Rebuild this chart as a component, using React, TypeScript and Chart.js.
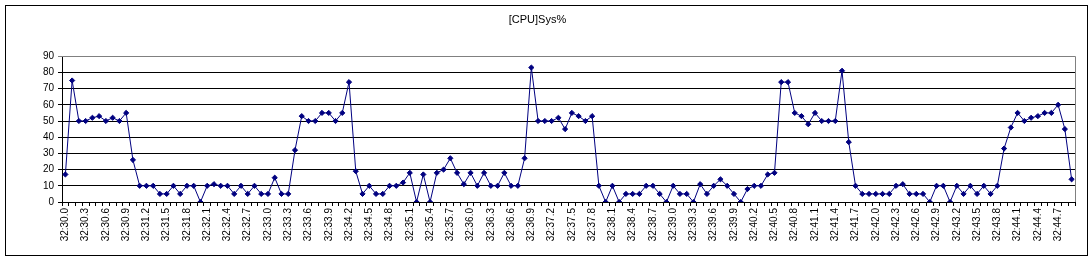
import React, { useEffect, useRef } from "react";
import { Chart, registerables } from "chart.js";

Chart.register(...registerables);

const chartTitle = "[CPU]Sys%";

const categories = [
  "32:30.0", "32:30.1", "32:30.2", "32:30.3", "32:30.4", "32:30.5", "32:30.6", "32:30.7", "32:30.8", "32:30.9",
  "32:31.0", "32:31.1", "32:31.2", "32:31.3", "32:31.4", "32:31.5", "32:31.6", "32:31.7", "32:31.8", "32:31.9",
  "32:32.0", "32:32.1", "32:32.2", "32:32.3", "32:32.4", "32:32.5", "32:32.6", "32:32.7", "32:32.8", "32:32.9",
  "32:33.0", "32:33.1", "32:33.2", "32:33.3", "32:33.4", "32:33.5", "32:33.6", "32:33.7", "32:33.8", "32:33.9",
  "32:34.0", "32:34.1", "32:34.2", "32:34.3", "32:34.4", "32:34.5", "32:34.6", "32:34.7", "32:34.8", "32:34.9",
  "32:35.0", "32:35.1", "32:35.2", "32:35.3", "32:35.4", "32:35.5", "32:35.6", "32:35.7", "32:35.8", "32:35.9",
  "32:36.0", "32:36.1", "32:36.2", "32:36.3", "32:36.4", "32:36.5", "32:36.6", "32:36.7", "32:36.8", "32:36.9",
  "32:37.0", "32:37.1", "32:37.2", "32:37.3", "32:37.4", "32:37.5", "32:37.6", "32:37.7", "32:37.8", "32:37.9",
  "32:38.0", "32:38.1", "32:38.2", "32:38.3", "32:38.4", "32:38.5", "32:38.6", "32:38.7", "32:38.8", "32:38.9",
  "32:39.0", "32:39.1", "32:39.2", "32:39.3", "32:39.4", "32:39.5", "32:39.6", "32:39.7", "32:39.8", "32:39.9",
  "32:40.0", "32:40.1", "32:40.2", "32:40.3", "32:40.4", "32:40.5", "32:40.6", "32:40.7", "32:40.8", "32:40.9",
  "32:41.0", "32:41.1", "32:41.2", "32:41.3", "32:41.4", "32:41.5", "32:41.6", "32:41.7", "32:41.8", "32:41.9",
  "32:42.0", "32:42.1", "32:42.2", "32:42.3", "32:42.4", "32:42.5", "32:42.6", "32:42.7", "32:42.8", "32:42.9",
  "32:43.0", "32:43.1", "32:43.2", "32:43.3", "32:43.4", "32:43.5", "32:43.6", "32:43.7", "32:43.8", "32:43.9",
  "32:44.0", "32:44.1", "32:44.2", "32:44.3", "32:44.4", "32:44.5", "32:44.6", "32:44.7", "32:44.8", "32:44.9",
];

const sysPercent = [
  17, 75, 50, 50, 52, 53, 50, 52, 50, 55,
  26, 10, 10, 10, 5, 5, 10, 5, 10, 10,
  0, 10, 11, 10, 10, 5, 10, 5, 10, 5,
  5, 15, 5, 5, 32, 53, 50, 50, 55, 55,
  50, 55, 74, 19, 5, 10, 5, 5, 10, 10,
  12, 18, 0, 17, 0, 18, 20, 27, 18, 11,
  18, 10, 18, 10, 10, 18, 10, 10, 27, 83,
  50, 50, 50, 52, 45, 55, 53, 50, 53, 10,
  0, 10, 0, 5, 5, 5, 10, 10, 5, 0,
  10, 5, 5, 0, 11, 5, 10, 14, 10, 5,
  0, 8, 10, 10, 17, 18, 74, 74, 55, 53,
  48, 55, 50, 50, 50, 81, 37, 10, 5, 5,
  5, 5, 5, 10, 11, 5, 5, 5, 0, 10,
  10, 0, 10, 5, 10, 5, 10, 5, 10, 33,
  46, 55, 50, 52, 53, 55, 55, 60, 45, 14,
];

const yMin = 0;
const yMax = 90;
const yStep = 10;
const labelEvery = 3;

const FONT = "'Liberation Sans', Arial, sans-serif";

export default function App() {
  const ref = useRef<HTMLCanvasElement>(null);

  useEffect(() => {
    if (!ref.current) return;
    const plotFrame = {
      id: "plotFrame",
      beforeDatasetsDraw(chart: any) {
        const { ctx, chartArea } = chart;
        const { left, right, top, bottom } = chartArea;
        ctx.save();
        ctx.strokeStyle = "#808080";
        ctx.lineWidth = 1;
        ctx.beginPath();
        ctx.moveTo(left, Math.round(top) + 0.5);
        ctx.lineTo(Math.round(right) + 0.5, Math.round(top) + 0.5);
        ctx.lineTo(Math.round(right) + 0.5, bottom);
        ctx.stroke();
        ctx.restore();
      },
    };
    const chart = new Chart(ref.current, {
      type: "line",
      data: {
        labels: categories,
        datasets: [
          {
            data: sysPercent,
            borderColor: "#000080",
            backgroundColor: "#000080",
            borderWidth: 1,
            tension: 0,
            pointStyle: "rectRot",
            pointRadius: 2.6,
            pointBorderWidth: 1,
            pointBackgroundColor: "#000080",
            pointBorderColor: "#000080",
          },
        ],
      },
      options: {
        animation: false,
        responsive: false,
        layout: { padding: { left: 0, right: 14, top: 0, bottom: 0 } },
        plugins: {
          legend: { display: false },
          tooltip: { enabled: false },
          title: {
            display: true,
            text: chartTitle,
            color: "#000",
            font: { family: FONT, size: 11, weight: "normal" },
            padding: { top: 13, bottom: 30 },
          },
        },
        scales: {
          x: {
            type: "category",
            offset: true,
            grid: {
              offset: true,
              drawOnChartArea: false,
              drawTicks: true,
              tickLength: 4,
              color: "#000",
            },
            border: { color: "#000" },
            ticks: {
              autoSkip: false,
              maxRotation: 90,
              minRotation: 90,
              padding: 2,
              color: "#000",
              font: { family: FONT, size: 10 },
              callback: (_v: any, i: number) => (i % labelEvery === 0 ? categories[i] : ""),
            },
            afterFit: (s: any) => {
              s.height = 58;
            },
          },
          y: {
            min: yMin,
            max: yMax,
            ticks: {
              stepSize: yStep,
              color: "#000",
              padding: 4,
              font: { family: FONT, size: 10 },
            },
            grid: {
              color: (c: any) => (c.tick && c.tick.value === yMax ? "#808080" : "#000"),
              tickLength: 4,
            },
            border: { color: "#000" },
            afterFit: (s: any) => {
              s.width = 62;
            },
          },
        },
      },
      plugins: [plotFrame],
    } as any);
    return () => chart.destroy();
  }, []);

  return (
    <div style={{ position: "fixed", left: 0, top: 0, width: 1089, height: 260, background: "#fff" }}>
      <canvas ref={ref} width={1089} height={260} style={{ position: "absolute", left: 0, top: 0 }} />
      <div
        style={{
          position: "absolute",
          left: 5,
          top: 5,
          width: 1083,
          height: 251,
          border: "1px solid #000",
          boxSizing: "border-box",
          pointerEvents: "none",
        }}
      />
    </div>
  );
}
